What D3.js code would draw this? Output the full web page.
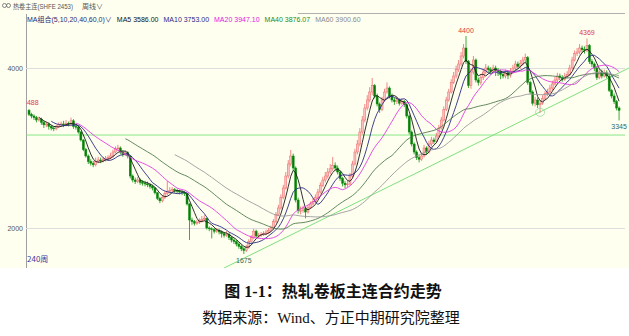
<!DOCTYPE html>
<html><head><meta charset="utf-8">
<script src="https://cdn.jsdelivr.net/npm/d3@7"></script>
<style>
html,body{margin:0;padding:0;background:#fff;}
svg{display:block;}
</style></head><body>
<svg id="chart" width="629" height="336"></svg>
<script>
// Weekly OHLC of the SHFE hot-rolled coil main contract, 240 weeks
const open = [
3470,3420,3400,3380,3350,3360,3320,3290,3300,3270,
3250,3240,3270,3290,3300,3290,3310,3300,3340,3270,
3260,3200,3100,2980,2900,2830,2810,2790,2830,2850,
2840,2860,2870,2880,2900,2950,2990,3000,2950,2920,
2940,2900,2650,2600,2580,2600,2570,2560,2550,2540,
2520,2500,2440,2370,2340,2380,2430,2460,2470,2480,
2470,2460,2450,2440,2430,2300,2100,2080,2060,2070,
2090,2110,2120,2000,1990,1980,1960,1970,1950,1930,
1910,1920,1880,1850,1830,1800,1770,1740,1720,1760,
1830,1880,1960,1900,1910,1920,1930,1950,1970,2000,
2080,2170,2250,2380,2500,2650,2800,2900,2750,2350,
2220,2220,2240,2200,2260,2300,2330,2380,2450,2530,
2600,2650,2700,2740,2780,2750,2700,2620,2560,2540,
2550,2650,2800,2950,3050,3200,3350,3500,3600,3700,
3780,3650,3550,3480,3600,3700,3750,3650,3600,3580,
3600,3560,3580,3540,3400,3200,3050,2950,2880,2860,
2900,3000,2950,3050,3100,3080,3150,3250,3350,3480,
3600,3700,3820,3900,3980,4050,4150,4250,4080,3780,
3950,4100,3850,3820,3880,3950,4000,3980,3960,4000,
3970,3950,3920,3900,3940,3910,3960,4000,4050,4020,
4060,4100,4130,3820,3700,3560,3600,3540,3560,3620,
3680,3700,3750,3800,3850,3900,3880,3860,3900,3920,
4000,4100,4180,4200,4250,4230,4220,4280,4080,4050,
4000,3880,3950,3900,3940,3900,3720,3650,3580,3500];
const high = [
3488,3440,3420,3400,3390,3380,3340,3330,3320,3290,
3270,3290,3320,3330,3340,3350,3330,3380,3360,3300,
3280,3210,3110,3000,2920,2860,2840,2880,2890,2880,
2890,2900,2910,2940,2980,3020,3040,3020,2970,2970,
2960,2910,2670,2630,2640,2620,2600,2590,2580,2560,
2540,2510,2450,2390,2410,2460,2587,2510,2510,2500,
2490,2480,2470,2460,2440,2310,2130,2100,2100,2120,
2150,2160,2130,2020,2010,2000,2000,1990,1970,1950,
1960,1940,1900,1870,1850,1820,1790,1760,1790,1860,
1910,1990,1980,1940,1950,1960,1980,2000,2030,2110,
2200,2290,2420,2540,2700,2850,2975,2930,2770,2380,
2270,2280,2260,2290,2330,2370,2420,2490,2570,2640,
2700,2750,2800,2887,2820,2780,2720,2640,2590,2590,
2690,2840,2990,3100,3250,3400,3550,3660,3760,3875,
3800,3680,3570,3640,3740,3820,3770,3680,3630,3640,
3620,3620,3600,3560,3420,3220,3070,2970,2910,2940,
3040,3020,3090,3140,3130,3190,3290,3390,3520,3640,
3740,3860,3950,4030,4100,4200,4300,4400,4100,3990,
4150,4120,3880,3920,3990,4050,4030,4010,4040,4030,
4000,3980,3950,3980,3970,4000,4040,4090,4080,4100,
4140,4180,4150,3840,3720,3640,3630,3600,3660,3710,
3740,3790,3840,3890,3940,3930,3910,3940,3960,4040,
4140,4220,4250,4300,4280,4270,4369,4300,4110,4070,
4020,3990,3980,3980,3970,3920,3740,3680,3600,3520];
const low = [
3400,3370,3350,3320,3330,3290,3250,3260,3230,3220,
3210,3220,3250,3270,3260,3270,3270,3280,3240,3230,
3180,3080,2960,2880,2800,2780,2760,2770,2810,2810,
2820,2830,2840,2860,2880,2930,2960,2920,2890,2900,
2870,2620,2570,2550,2560,2540,2530,2520,2510,2490,
2470,2420,2350,2310,2320,2360,2410,2430,2440,2440,
2430,2420,2410,2400,2280,1850,2040,2030,2040,2050,
2070,2090,1980,1960,1870,1930,1940,1920,1880,1880,
1890,1850,1820,1800,1770,1740,1710,1675,1700,1740,
1810,1860,1880,1870,1890,1900,1910,1930,1950,1980,
2060,2150,2230,2360,2480,2620,2770,2720,2320,2180,
2170,2190,2120,2180,2240,2280,2310,2360,2430,2510,
2570,2620,2670,2710,2720,2670,2590,2520,2500,2510,
2530,2630,2780,2920,3020,3170,3320,3470,3570,3660,
3620,3520,3440,3460,3580,3680,3620,3570,3540,3550,
3530,3540,3510,3370,3170,3020,2920,2850,2820,2840,
2880,2920,2930,3020,3050,3060,3130,3230,3330,3460,
3580,3680,3800,3870,3950,4020,4120,4050,3750,3740,
3920,3820,3780,3790,3850,3920,3940,3920,3930,3900,
3900,3860,3870,3870,3860,3880,3930,3970,3990,3990,
4030,4070,3790,3670,3530,3520,3500,3440,3540,3600,
3650,3680,3720,3780,3820,3850,3830,3840,3870,3900,
3980,4080,4150,4170,4190,4180,4200,4050,4010,3960,
3850,3860,3870,3880,3870,3700,3620,3550,3470,3345];
const close = [
3420,3400,3380,3350,3360,3320,3290,3300,3270,3250,
3240,3270,3290,3300,3290,3310,3300,3340,3270,3260,
3200,3100,2980,2900,2830,2810,2790,2830,2850,2840,
2860,2870,2880,2900,2950,2990,3000,2950,2920,2940,
2900,2650,2600,2580,2600,2570,2560,2550,2540,2520,
2500,2440,2370,2340,2380,2430,2460,2470,2480,2470,
2460,2450,2440,2430,2300,2100,2080,2060,2070,2090,
2110,2120,2000,1990,1980,1960,1970,1950,1930,1910,
1920,1880,1850,1830,1800,1770,1740,1720,1760,1830,
1880,1960,1900,1910,1920,1930,1950,1970,2000,2080,
2170,2250,2380,2500,2650,2800,2900,2750,2350,2220,
2220,2240,2200,2260,2300,2330,2380,2450,2530,2600,
2650,2700,2740,2780,2750,2700,2620,2560,2540,2550,
2650,2800,2950,3050,3200,3350,3500,3600,3700,3780,
3650,3550,3480,3600,3700,3750,3650,3600,3580,3600,
3560,3580,3540,3400,3200,3050,2950,2880,2860,2900,
3000,2950,3050,3100,3080,3150,3250,3350,3480,3600,
3700,3820,3900,3980,4050,4150,4250,4080,3780,3950,
4100,3850,3820,3880,3950,4000,3980,3960,4000,3970,
3950,3920,3900,3940,3910,3960,4000,4050,4020,4060,
4100,4130,3820,3700,3560,3600,3540,3560,3620,3680,
3700,3750,3800,3850,3900,3880,3860,3900,3920,4000,
4100,4180,4200,4250,4230,4220,4280,4080,4050,4000,
3880,3950,3900,3940,3900,3720,3650,3580,3500,3470];

const maPeriods = [5, 10, 20, 40, 60];
const maLegend = ["MA5 3586.00", "MA10 3753.00", "MA20 3947.10", "MA40 3876.07", "MA60 3900.60"];
const maColors = ["#1a1a1a", "#2a2a86", "#e23be2", "#4f7a4f", "#9a9a9a"];
const priceTicks = [2000, 4000];
const supportPrice = 3162;
const trendWeeks = [79, 243];
const trendPrices = [1500, 4000];
const markWeeks = [0, 177, 226, 87, 239];
const markKinds = ["high", "high", "high", "low", "low"];
const circledWeek = 207;
const title = "图 1-1：热轧卷板主连合约走势";
const source = "数据来源：Wind、方正中期研究院整理";
const header = "热卷主连(SHFE 2453)";
const period = "周线∨";
const maGroup = "MA组合(5,10,20,40,60,0)∨";
const spanLabel = "240周";

const weeks = d3.range(close.length);
const svg = d3.select("#chart");
const W = 629;
const panel = {left: 26, right: 629, top: 0, bottom: 268};
const plot = {left: 26, right: 629, top: 14, bottom: 268};

const x = d3.scaleBand().domain(weeks).range([27.8, 620.3]);
const xc = i => x(i) + x.bandwidth() / 2;
const y = d3.scaleLinear().domain([2000, 4000]).range([228, 68]);

const smallFont = "'Liberation Sans','Noto Sans CJK SC',sans-serif";
const cjk = "'Noto Sans CJK SC',sans-serif";

// panel background
svg.append("rect").attr("x", 0).attr("y", 0).attr("width", W).attr("height", panel.bottom)
  .attr("fill", "#fffff0");

const defs = svg.append("defs");
defs.append("clipPath").attr("id", "plotClip").append("rect")
  .attr("x", plot.left + 0.5).attr("y", plot.top).attr("width", plot.right - plot.left)
  .attr("height", plot.bottom - plot.top);

// header row: link icon, contract name, period selector
svg.append("rect").attr("x", 2.5).attr("y", 3.5).attr("width", 4).attr("height", 4).attr("rx", 2)
  .attr("fill", "none").attr("stroke", "#666").attr("stroke-width", 0.8);
svg.append("rect").attr("x", 6.5).attr("y", 3.5).attr("width", 4).attr("height", 4).attr("rx", 2)
  .attr("fill", "none").attr("stroke", "#666").attr("stroke-width", 0.8);
svg.append("text").attr("x", 13).attr("y", 8.5).attr("font-size", 6.5).attr("font-family", smallFont)
  .attr("textLength", 60).attr("lengthAdjust", "spacingAndGlyphs")
  .attr("fill", "#555").text(header);
svg.append("text").attr("x", 82).attr("y", 8.5).attr("font-size", 7).attr("font-family", cjk)
  .attr("fill", "#555").text(period);
svg.append("line").attr("x1", 298).attr("x2", 625).attr("y1", 13.5).attr("y2", 13.5)
  .attr("stroke", "#b0b0b0").attr("stroke-width", 1);

// MA legend row
const legendTexts = [maGroup].concat(maLegend);
const legendColors = ["#2a2a70"].concat(["#111", "#1f1f88", "#e020e0", "#1c8a1c", "#8a8a8a"]);
let lx = 27;
legendTexts.forEach((t, k) => {
  const el = svg.append("text").attr("x", lx).attr("y", 21.5).attr("font-size", 7)
    .attr("font-family", smallFont).attr("fill", legendColors[k]).text(t);
  lx += el.node().getComputedTextLength() + 5;
});

// y axis
svg.append("line").attr("x1", plot.left + 0.5).attr("x2", plot.left + 0.5)
  .attr("y1", plot.top).attr("y2", plot.bottom).attr("stroke", "#a0a0a0");
svg.append("g").selectAll("line").data(priceTicks).join("line")
  .attr("x1", plot.left).attr("x2", 625).attr("y1", d => Math.round(y(d)) + 0.5)
  .attr("y2", d => Math.round(y(d)) + 0.5).attr("stroke", "#dedede");
const axis = svg.append("g").attr("transform", `translate(${plot.left},0)`)
  .call(d3.axisLeft(y).tickValues(priceTicks).tickSize(0).tickPadding(3).tickFormat(d3.format("d")));
axis.select(".domain").remove();
axis.selectAll("text").attr("font-size", 7).attr("font-family", smallFont).attr("fill", "#555");

const g = svg.append("g").attr("clip-path", "url(#plotClip)");

// support level and rising trendline
g.append("line").attr("x1", plot.left).attr("x2", 625)
  .attr("y1", y(supportPrice)).attr("y2", y(supportPrice))
  .attr("stroke", "#86e686").attr("stroke-width", 1);
const tx = w => xc(0) + w * x.step();
g.append("line")
  .attr("x1", tx(trendWeeks[0])).attr("y1", y(trendPrices[0]))
  .attr("x2", tx(trendWeeks[1])).attr("y2", y(trendPrices[1]))
  .attr("stroke", "#7ee07e").attr("stroke-width", 1);

// candles
const up = i => close[i] >= open[i];
g.append("g").selectAll("line").data(weeks).join("line")
  .attr("x1", i => xc(i)).attr("x2", i => xc(i))
  .attr("y1", i => y(high[i])).attr("y2", i => y(low[i]))
  .attr("stroke", i => up(i) ? "#ee6a6a" : "#129212").attr("stroke-width", 0.8);
g.append("g").selectAll("rect").data(weeks).join("rect")
  .attr("x", i => xc(i) - 1.0).attr("width", 2.0)
  .attr("y", i => y(Math.max(open[i], close[i])))
  .attr("height", i => Math.max(0.8, Math.abs(y(open[i]) - y(close[i]))))
  .attr("fill", i => up(i) ? "#fbc0c0" : "#0b7a0b")
  .attr("stroke", i => up(i) ? "#ee6a6a" : "#0f8f0f").attr("stroke-width", 0.5);

// moving averages
maPeriods.forEach((n, k) => {
  const ma = weeks.map(i => i < n - 1 ? null : d3.mean(close.slice(i - n + 1, i + 1)));
  g.append("path").datum(weeks)
    .attr("d", d3.line().defined(i => ma[i] != null).x(i => xc(i)).y(i => y(ma[i])))
    .attr("fill", "none").attr("stroke", maColors[k]).attr("stroke-width", 0.9);
});

// circled weekly low
g.append("ellipse").attr("cx", xc(circledWeek)).attr("cy", y(low[circledWeek]) - 0.5)
  .attr("rx", 4.5).attr("ry", 4).attr("fill", "none").attr("stroke", "#9ad99a").attr("stroke-width", 0.8);

// extreme value labels
markWeeks.forEach((w, k) => {
  const isHigh = markKinds[k] === "high";
  const v = isHigh ? high[w] : low[w];
  let px = xc(w), anchor = "middle";
  if (w === 0) { px = 23; anchor = "start"; }
  g.append("text").attr("x", px).attr("y", isHigh ? y(v) - 3.5 : y(v) + 9)
    .attr("text-anchor", anchor).attr("font-size", 7).attr("font-family", smallFont)
    .attr("fill", isHigh ? "#e03a3a" : "#2f6a5c").text(d3.format("d")(v));
});

svg.append("text").attr("x", 27).attr("y", 262).attr("font-size", 8).attr("font-family", cjk)
  .attr("fill", "#3a3aa0").text(spanLabel);

// caption
svg.append("text").attr("x", 333).attr("y", 297).attr("text-anchor", "middle")
  .attr("font-size", 16).attr("font-weight", "bold")
  .attr("font-family", "'Liberation Serif','Noto Sans CJK SC',serif").attr("fill", "#111").text(title);
svg.append("text").attr("x", 331).attr("y", 323).attr("text-anchor", "middle")
  .attr("font-size", 15)
  .attr("font-family", "'Liberation Serif','Noto Sans CJK SC',serif").attr("fill", "#111").text(source);
</script>
</body></html>
